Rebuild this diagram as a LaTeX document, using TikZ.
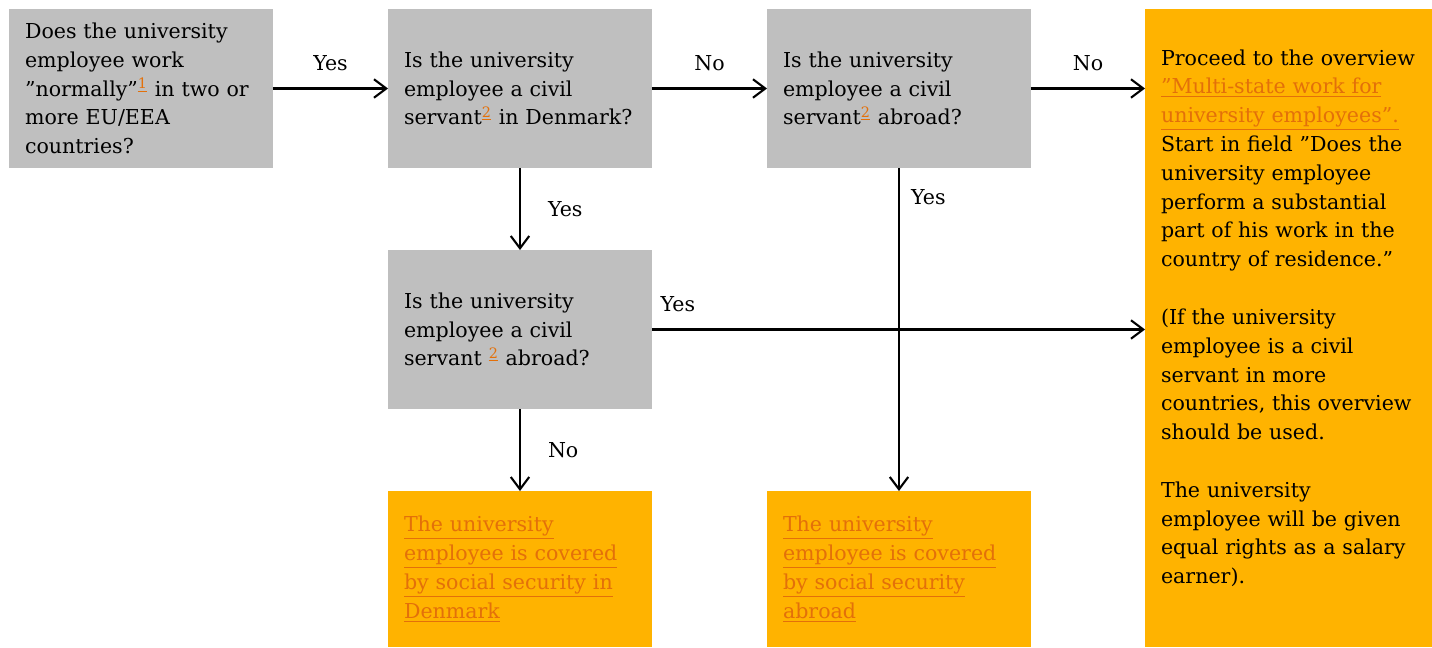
\documentclass[tikz,border=0pt]{standalone}
\usepackage{fontspec}
\setmainfont{DejaVu Serif}
\usepackage{tikz}
\usetikzlibrary{arrows.meta}
\definecolor{boxgray}{RGB}{191,191,191}
\definecolor{boxorange}{RGB}{255,179,0}
\definecolor{linkorange}{RGB}{227,112,10}
\newcommand{\lnk}[1]{{\color{linkorange}\underline{#1}}}
\newcommand{\supref}[1]{\textsuperscript{\lnk{#1}}}

\begin{document}
\begin{tikzpicture} [x=0.02cm, y=-0.02cm,
  txt/.style={font=\fontsize{11.7pt}{16.4pt}\selectfont},
  question/.style={txt, fill=boxgray, minimum width=5.28cm, minimum height=3.18cm,
    text width=4.64cm, inner xsep=0.32cm, outer sep=0pt, align=left},
  answer/.style={question, fill=boxorange, minimum height=3.12cm},
  flow/.style={line width=1.2pt, -{Straight Barb[length=7pt,width=10.5pt]}}]
\useasboundingbox (0,0) rectangle (1432,647);
\node [question] (q1) at (141,88.5) {Does the university\\ employee work\\ ”normally”\supref{1} in two or\\ more EU/EEA\\ countries?};
\node [question] (q2) at (520,88.5) {Is the university\\ employee a civil\\ servant\supref{2} in Denmark?};
\node [question] (q3) at (899,88.5) {Is the university\\ employee a civil\\ servant\supref{2} abroad?};
\node [question] (q4) at (520,329.5) {Is the university\\ employee a civil\\ servant \supref{2} abroad?};
\node [answer] (a1) at (520,569) {\lnk{The university}\\ \lnk{employee is covered}\\ \lnk{by social security in}\\ \lnk{Denmark}};
\node [answer] (a2) at (899,569) {\lnk{The university}\\ \lnk{employee is covered}\\ \lnk{by social security}\\ \lnk{abroad}};
\node [answer, minimum width=5.74cm, text width=5.10cm, minimum height=12.76cm] (a3) at (1288.5,328)
  {Proceed to the overview\\ \lnk{”Multi-state work for}\\ \lnk{university employees”.}\\
   Start in field ”Does the\\ university employee\\ perform a substantial\\ part of his work in the\\ country of residence.”\\[16.4pt]
   (If the university\\ employee is a civil\\ servant in more\\ countries, this overview\\ should be used.\\[16.4pt]
   The university\\ employee will be given\\ equal rights as a salary\\ earner).\\[-3.4pt]\mbox{}};
\draw [flow] (q1) -- node [txt, midway, above=6pt] (y1) {Yes} (q2);
\draw [flow] (q2) -- node [txt, midway, above=6pt] (n1) {No} (q3);
\draw [flow] (q3.east) -- node [txt, midway, above=6pt] (n2) {No} (q3.east -| a3.west);
\draw [flow] (q2) -- node [txt, midway, right=12pt] (y2) {Yes} (q4);
\draw [flow] (q4) -- node [txt, midway, right=12pt] (n3) {No} (a1);
\draw [flow] (q3) -- node [txt, pos=0.09, right=3pt] (y3) {Yes} (a2);
\draw [flow] (q4.east) -- node [txt, pos=0, anchor=south west, xshift=1pt, yshift=6pt] (y4) {Yes} (q4.east -| a3.west);
\end{tikzpicture}
\end{document}
